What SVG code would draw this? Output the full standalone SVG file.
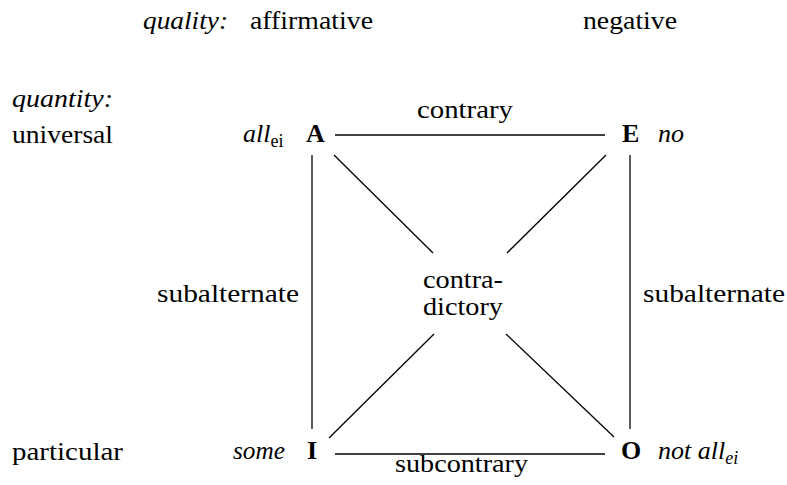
<svg xmlns="http://www.w3.org/2000/svg" width="787" height="485" viewBox="0 0 787 485">
<style>
text{font-family:"Liberation Serif",Tinos,"Times New Roman",Times,"DejaVu Serif","Noto Serif",serif;font-size:26px;fill:#000}
.it{font-style:italic}
.bf{font-weight:bold}
.sub{font-size:18px}
.ln{stroke:#000;stroke-width:1.3;fill:none}
</style>
<rect width="787" height="485" fill="#fff"/>
<g id="headers">
<text class="it" x="143" y="29" textLength="85" lengthAdjust="spacingAndGlyphs">quality:</text>
<text x="250" y="29" textLength="123" lengthAdjust="spacingAndGlyphs">affirmative</text>
<text x="583" y="29" textLength="94" lengthAdjust="spacingAndGlyphs">negative</text>
<text class="it" x="12" y="107" textLength="101" lengthAdjust="spacingAndGlyphs">quantity:</text>
<text x="12" y="143" textLength="101" lengthAdjust="spacingAndGlyphs">universal</text>
<text x="12" y="460" textLength="111" lengthAdjust="spacingAndGlyphs">particular</text>
</g>
<g id="connectors">
<line class="ln" x1="335" y1="135" x2="605" y2="135"/>
<line class="ln" x1="335" y1="454" x2="605" y2="454"/>
<line class="ln" x1="312" y1="155" x2="312" y2="429"/>
<line class="ln" x1="630" y1="155" x2="630" y2="429"/>
<line class="ln" x1="334" y1="155" x2="433" y2="253"/>
<line class="ln" x1="606" y1="155" x2="507" y2="253"/>
<line class="ln" x1="434" y1="334" x2="329" y2="438"/>
<line class="ln" x1="506" y1="334" x2="614" y2="437"/>
</g>
<g id="labels">
<text x="417" y="118" textLength="96" lengthAdjust="spacingAndGlyphs">contrary</text>
<text x="395" y="472" textLength="133" lengthAdjust="spacingAndGlyphs">subcontrary</text>
<text x="157" y="302" textLength="142" lengthAdjust="spacingAndGlyphs">subalternate</text>
<text x="643" y="302" textLength="142" lengthAdjust="spacingAndGlyphs">subalternate</text>
</g>
<g id="node-center">
<text x="423" y="288" textLength="80" lengthAdjust="spacingAndGlyphs">contra-</text>
<text x="423" y="315" textLength="80" lengthAdjust="spacingAndGlyphs">dictory</text>
</g>
<g id="node-A">
<text x="243" y="142"><tspan class="it">all</tspan><tspan class="sub" dy="5">ei</tspan></text>
<text class="bf" x="306" y="142">A</text>
</g>
<g id="node-E">
<text class="bf" x="622" y="142">E</text>
<text class="it" x="658" y="142">no</text>
</g>
<g id="node-I">
<text class="it" x="233" y="459" textLength="52" lengthAdjust="spacingAndGlyphs">some</text>
<text class="bf" x="307" y="459">I</text>
</g>
<g id="node-O">
<text class="bf" x="621" y="459">O</text>
<text class="it" x="658" y="459">not all<tspan class="sub" dy="5">ei</tspan></text>
</g>
</svg>
